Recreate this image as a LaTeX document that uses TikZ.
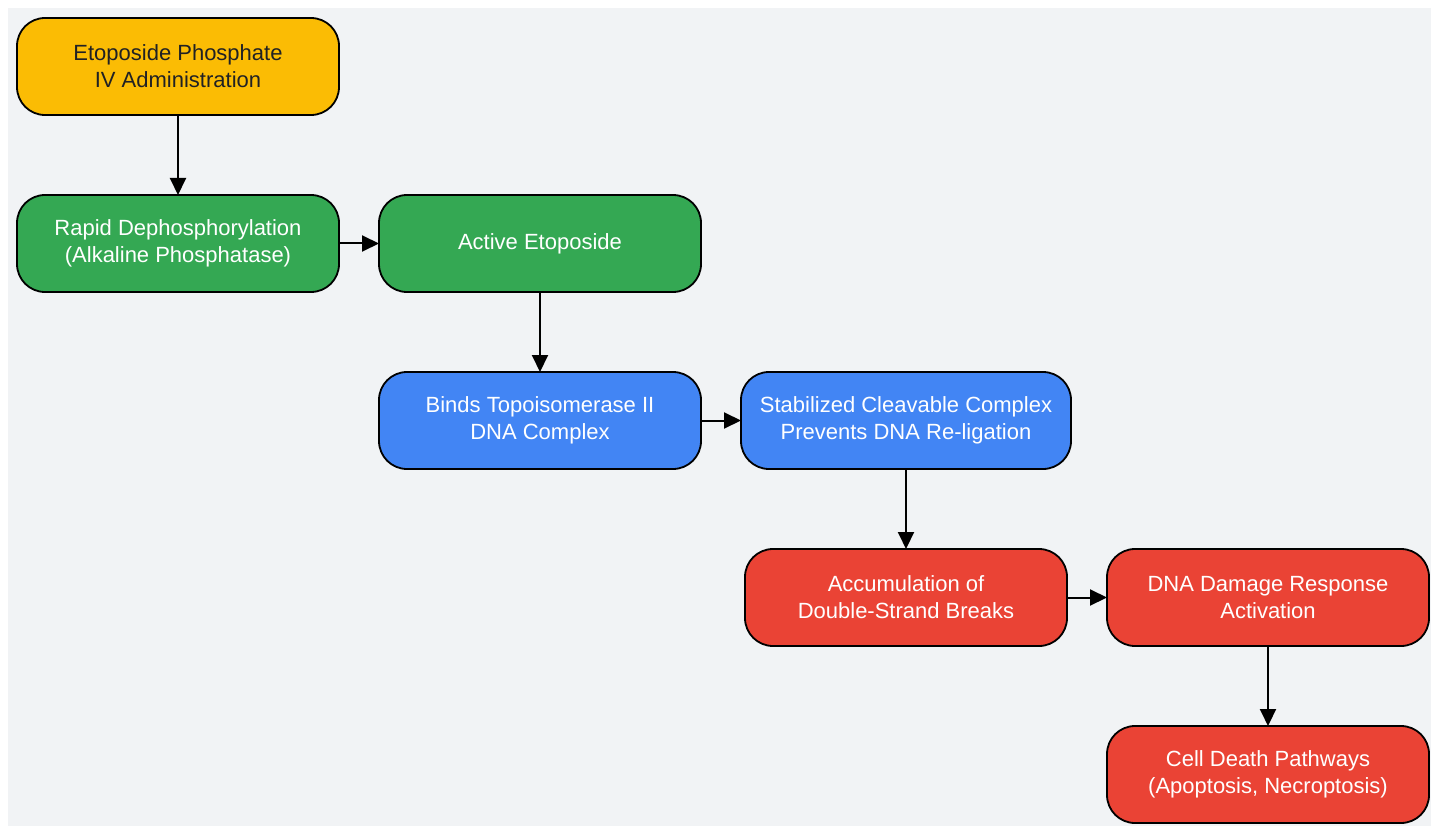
\documentclass[tikz,border=0pt]{standalone}
\usepackage{fontspec}
\setmainfont{Liberation Sans}
\usetikzlibrary{arrows.meta, positioning}

\definecolor{bggray}{HTML}{F1F3F5}
\definecolor{gyellow}{HTML}{FBBC04}
\definecolor{ggreen}{HTML}{34A853}
\definecolor{gblue}{HTML}{4285F4}
\definecolor{gred}{HTML}{EA4335}
\definecolor{darktext}{HTML}{202124}

\begin{document}
\begin{tikzpicture}
	\tikzset {>={Triangle[length=17pt,width=16pt]}, node distance=80pt and 40pt,
		stepbox/.style={rectangle, rounded corners=28pt, draw=black, line width=1.8pt, outer sep=0pt,
			minimum width=322pt, minimum height=97pt, align=center, text=white,
			font=\fontsize{22}{27}\selectfont},
		flow/.style={->, line width=2pt} }
	\useasboundingbox (0pt,0pt) rectangle (1431pt,-826pt);
	\fill[bggray] (8pt,-8pt) rectangle (1431pt,-826pt);

	\node[stepbox, fill=gyellow, text=darktext] (admin) at (178pt,-66.5pt) {Etoposide Phosphate\\IV Administration};
	\node[stepbox, fill=ggreen, below=of admin] (dephos) {Rapid Dephosphorylation\\(Alkaline Phosphatase)};
	\node[stepbox, fill=ggreen, right=of dephos] (active) {Active Etoposide};
	\node[stepbox, fill=gblue, below=of active] (binds) {Binds Topoisomerase II\\DNA Complex};
	\node[stepbox, fill=gblue, right=of binds, minimum width=330pt] (stab) {Stabilized Cleavable Complex\\Prevents DNA Re-ligation};
	\node[stepbox, fill=gred, below=of stab] (accum) {Accumulation of\\Double-Strand Breaks};
	\node[stepbox, fill=gred, right=of accum] (ddr) {DNA Damage Response\\Activation};
	\node[stepbox, fill=gred, below=of ddr] (death) {Cell Death Pathways\\(Apoptosis, Necroptosis)};

	\draw[flow] (admin) -- (dephos);
	\draw[flow] (dephos) -- (active);
	\draw[flow] (active) -- (binds);
	\draw[flow] (binds) -- (stab);
	\draw[flow] (stab) -- (accum);
	\draw[flow] (accum) -- (ddr);
	\draw[flow] (ddr) -- (death);
\end{tikzpicture}
\end{document}
